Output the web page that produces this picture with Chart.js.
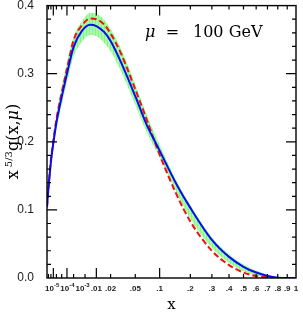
<!DOCTYPE html>
<html lang="en">
  <head>
    <meta charset="UTF-8" />
    <title>x^5/3 g(x,mu) at mu = 100 GeV</title>
    <script src="https://cdn.jsdelivr.net/npm/chart.js@4.4.0/dist/chart.umd.min.js"></script>
    <style>
      body { margin: 0; background: #fff; }
    </style>
  </head>
  <body>
    <canvas id="myChart" width="303" height="312"></canvas>

    <script>
      const xValues   = [1e-5, 2e-5, 5e-5, 1e-4, 2e-4, 5e-4, 1e-3, 2e-3, 4e-3, 7e-3, 0.01, 0.015, 0.02, 0.03, 0.05, 0.07, 0.1, 0.15, 0.2, 0.3, 0.4, 0.5, 0.6, 0.7, 0.8, 0.9, 1];
      const blueCurve = [0.105, 0.131, 0.170, 0.198, 0.228, 0.266, 0.300, 0.339, 0.363, 0.372, 0.370, 0.361, 0.348, 0.318, 0.267, 0.226, 0.187, 0.137, 0.103, 0.056, 0.031, 0.0165, 0.008, 0.003, 0.0005, 0, 0];
      const redCurve  = [0.104, 0.132, 0.173, 0.201, 0.233, 0.272, 0.307, 0.349, 0.371, 0.381, 0.380, 0.372, 0.359, 0.331, 0.277, 0.234, 0.181, 0.122, 0.083, 0.040, 0.019, 0.008, 0.003, 0.001, 0.0002, 0, 0];
      const bandUpper = [0.109, 0.136, 0.178, 0.208, 0.240, 0.281, 0.316, 0.354, 0.377, 0.389, 0.388, 0.379, 0.366, 0.338, 0.285, 0.241, 0.196, 0.142, 0.107, 0.060, 0.035, 0.020, 0.011, 0.005, 0.0015, 0, 0];
      const bandLower = [0.102, 0.126, 0.163, 0.190, 0.218, 0.254, 0.287, 0.325, 0.347, 0.357, 0.355, 0.345, 0.333, 0.305, 0.254, 0.215, 0.177, 0.125, 0.087, 0.044, 0.022, 0.010, 0.004, 0.001, 0, 0, 0];

      // axis ticks
      const xTickValues = [1e-5, 1e-4, 1e-3, 0.01, 0.02, 0.05, 0.1, 0.2, 0.3, 0.4, 0.5, 0.6, 0.7, 0.8, 0.9, 1];
      const xTickLabels = ['10^-5', '10^-4', '10^-3', '.01', '.02', '.05', '.1', '.2', '.3', '.4', '.5', '.6', '.7', '.8', '.9', '1'];
      const xMajorTicks = [1e-4, 1e-3, 0.01, 0.1];
      const xMinorTicks = [2e-5, 5e-5, 2e-4, 5e-4, 2e-3, 5e-3, 0.02, 0.05, 0.2, 0.3, 0.4, 0.5, 0.6, 0.7, 0.8, 0.9];
      const yMajorTicks = [0.1, 0.2, 0.3];
      const yMinorTicks = [0.02, 0.04, 0.06, 0.08, 0.12, 0.14, 0.16, 0.18, 0.22, 0.24, 0.26, 0.28, 0.32, 0.34, 0.36, 0.38];

      // horizontal axis runs in x^(1/3)
      const cbrt = v => Math.cbrt(v);
      const toPoints = ys => xValues.map((x, i) => ({ x: cbrt(x), y: ys[i] }));

      const ctx = document.getElementById('myChart').getContext('2d');

      // light green hatch for the band
      const pc = document.createElement('canvas');
      pc.width = 3; pc.height = 1;
      const pg = pc.getContext('2d');
      pg.fillStyle = '#a6ffa6'; pg.fillRect(0, 0, 3, 1);
      pg.fillStyle = '#8cf28c'; pg.fillRect(2, 0, 1, 1);
      const hatch = ctx.createPattern(pc, 'repeat');

      const serif = '"DejaVu Serif", serif';
      const sans = '"Liberation Sans", Arial, sans-serif';

      const decorations = {
        id: 'decorations',
        afterDraw(chart) {
          const c = chart.ctx;
          const a = chart.chartArea;
          const xs = chart.scales.x, ys = chart.scales.y;
          c.save();
          c.strokeStyle = '#000';
          c.lineWidth = 1.4;
          c.strokeRect(a.left, a.top, a.right - a.left, a.bottom - a.top);

          // inward ticks on all four sides
          c.lineWidth = 1.2;
          c.beginPath();
          const xTick = (v, len) => {
            const px = xs.getPixelForValue(cbrt(v));
            c.moveTo(px, a.bottom); c.lineTo(px, a.bottom - len);
            c.moveTo(px, a.top); c.lineTo(px, a.top + len);
          };
          const yTick = (v, len) => {
            const py = ys.getPixelForValue(v);
            c.moveTo(a.left, py); c.lineTo(a.left + len, py);
            c.moveTo(a.right, py); c.lineTo(a.right - len, py);
          };
          xMajorTicks.forEach(v => xTick(v, 10));
          xMinorTicks.forEach(v => xTick(v, 4));
          yMajorTicks.forEach(v => yTick(v, 10));
          yMinorTicks.forEach(v => yTick(v, 4));
          c.stroke();

          // x tick labels, pushed right when they would collide
          c.fillStyle = '#222';
          c.textBaseline = 'middle';
          c.textAlign = 'left';
          const ly = a.bottom + 10.5;
          let prevRight = a.left - 2;
          xTickValues.forEach((v, i) => {
            const txt = xTickLabels[i];
            const px = xs.getPixelForValue(cbrt(v));
            if (txt.indexOf('^') >= 0) {
              const [base, sup] = txt.split('^');
              c.font = 'bold 8px ' + sans;
              const wb = c.measureText(base).width;
              c.font = 'bold 6px ' + sans;
              const ws = c.measureText(sup).width;
              const left = Math.max(px - (wb + ws) / 2, prevRight);
              c.font = 'bold 8px ' + sans;
              c.fillText(base, left, ly);
              c.font = 'bold 6px ' + sans;
              c.fillText(sup, left + wb, ly - 3);
              prevRight = left + wb + ws + 1;
            } else {
              c.font = 'bold 8px ' + sans;
              const w = c.measureText(txt).width;
              const left = Math.max(px - w / 2, prevRight);
              c.fillText(txt, left, ly);
              prevRight = left + w + 1;
            }
          });

          // x axis title
          c.fillStyle = '#000';
          c.textAlign = 'center';
          c.textBaseline = 'alphabetic';
          c.font = '15px ' + serif;
          c.fillText('x', (a.left + a.right) / 2, 309);

          // y axis title x^{5/3} g(x,mu)
          c.save();
          c.translate(18, 141.5);
          c.rotate(-Math.PI / 2);
          c.textAlign = 'left';
          c.font = '16px ' + serif;
          const w1 = c.measureText('x').width;
          c.font = '10px ' + serif;
          const w2 = c.measureText('5/3').width;
          c.font = '16px ' + serif;
          const w3 = c.measureText('g(x,μ)').width;
          let cx = -(w1 + 3 + w2 + w3) / 2;
          c.fillText('x', cx, 0);
          cx += w1 + 3;
          c.font = '10px ' + serif;
          c.fillText('5/3', cx, -6);
          cx += w2;
          c.font = '16px ' + serif;
          c.fillText('g(x,', cx, 0);
          cx += c.measureText('g(x,').width;
          c.font = 'italic 16px ' + serif;
          c.fillText('μ', cx, 0);
          cx += c.measureText('μ').width;
          c.font = '16px ' + serif;
          c.fillText(')', cx, 0);
          c.restore();

          // scale annotation
          c.textAlign = 'left';
          c.font = 'italic 16px ' + serif;
          c.fillText('μ', 145, 37);
          c.font = '16px ' + serif;
          c.textAlign = 'center';
          c.fillText('=', 172.5, 37);
          c.textAlign = 'left';
          c.fillText('100 GeV', 193, 37);
          c.restore();
        }
      };

      const myChart = new Chart(ctx, {
        type: 'line',
        data: {
          datasets: [
            {
              label: 'central',
              data: toPoints(blueCurve),
              borderColor: '#0b0bf0',
              borderWidth: 2,
              pointRadius: 0,
              fill: false,
              cubicInterpolationMode: 'monotone'
            },
            {
              label: 'alternative',
              data: toPoints(redCurve),
              borderColor: '#f01010',
              borderWidth: 2,
              borderDash: [6, 3],
              pointRadius: 0,
              fill: false,
              cubicInterpolationMode: 'monotone'
            },
            {
              label: 'band upper',
              data: toPoints(bandUpper),
              borderWidth: 0,
              borderColor: 'rgba(0,0,0,0)',
              backgroundColor: hatch,
              pointRadius: 0,
              fill: '+1',
              cubicInterpolationMode: 'monotone'
            },
            {
              label: 'band lower',
              data: toPoints(bandLower),
              borderWidth: 0,
              borderColor: 'rgba(0,0,0,0)',
              pointRadius: 0,
              fill: false,
              cubicInterpolationMode: 'monotone'
            }
          ]
        },
        options: {
          responsive: false,
          animation: false,
          layout: { padding: { left: 0, right: 7, top: 0, bottom: 0 } },
          plugins: { legend: { display: false }, tooltip: { enabled: false } },
          scales: {
            x: {
              type: 'linear',
              min: cbrt(xTickValues[0]),
              max: 1,
              grid: { display: false },
              border: { display: false },
              ticks: { display: false },
              afterFit(s) { s.height = 34; }
            },
            y: {
              min: 0,
              max: 0.4,
              grid: { display: false },
              border: { display: false },
              ticks: {
                stepSize: 0.1,
                padding: 5,
                color: '#222',
                font: { size: 12, family: sans, lineHeight: 0.1 },
                callback: v => v.toFixed(1)
              },
              afterFit(s) { s.width = 47; }
            }
          }
        },
        plugins: [decorations]
      });
    </script>
  </body>
</html>
